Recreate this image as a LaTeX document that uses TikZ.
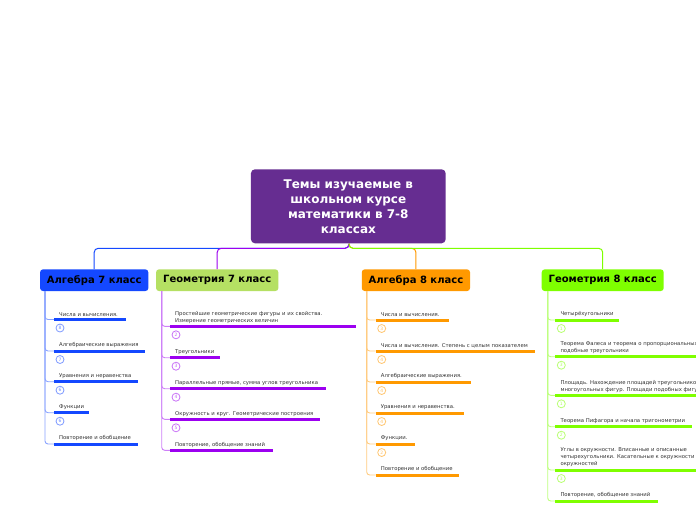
\documentclass[tikz,border=0pt]{standalone}
\usepackage{fontspec}
\setmainfont{DejaVu Sans}
\usetikzlibrary{calc}
\definecolor{rootc}{HTML}{662D91}
\definecolor{ablue}{HTML}{1448FF}
\definecolor{gpurp}{HTML}{9C00F0}
\definecolor{gbox}{HTML}{B5E063}
\definecolor{aor}{HTML}{FF9900}
\definecolor{ggr}{HTML}{7FFF00}
\definecolor{txt}{HTML}{333333}
\tikzset{
  rootbox/.style={draw=none, fill=rootc, rounded corners=4pt, minimum width=194.7pt, minimum height=74pt, text=white, font=\fontsize{12}{15}\selectfont\bfseries, align=center, inner sep=0pt},
  branchbox/.style={rounded corners=3pt, minimum height=21.7pt, inner sep=0pt, font=\fontsize{10}{11}\selectfont\bfseries, text=black},
  itemtext/.style={inner sep=0pt, align=left, text=txt, font=\fontsize{5.3}{7}\selectfont},
  numc/.style={circle, fill=white, line width=0.8pt, minimum size=8pt, inner sep=0pt, font=\fontsize{4.5}{4.5}\selectfont},
  sub/.style={line width=0.9pt, rounded corners=3pt},
  conn/.style={line width=1pt, rounded corners=4pt},
  uline/.style={line width=3pt}
}
% #1 name, #2 colour, #3 x of vertical line, #4 x start, #5 x end, #6 y, #7 text, #8 number
\newcommand\mmitem[8]{%
  \coordinate (#1s) at (#4,#6);
  \coordinate (#1e) at (#5,#6);
  \draw[sub, #2!50] (#3,291) |- (#1s);
  \node[itemtext, anchor=south west] (#1t) at ($(#1s)+(5,-3)$) {#7};
  \draw[uline, #2] (#1s) -- (#1e);
  \ifx&#8&\else\node[numc, draw=#2!55, text=#2!60] (#1n) at ($(#1s)+(6,8.5)$) {#8};\fi
}
\begin{document}
\begin{tikzpicture}[x=1pt,y=-1pt]
\useasboundingbox (0,0) rectangle (696,520);
\clip (0,0) rectangle (696,520);
\fill[white] (0,0) rectangle (696,520);
% root
\node[rootbox] (root) at (348.3,206.3) {\rule{0pt}{0pt}\raisebox{0pt}{}Темы изучаемые в\\школьном курсе\\математики в 7-8\\классах};
% branches
\node[branchbox, fill=ablue, minimum width=108.3pt] (a7) at (94.2,280.2) {Алгебра 7 класс};
\node[branchbox, fill=gbox, minimum width=122.3pt] (g7) at (217.2,280.2) {Геометрия 7 класс};
\node[branchbox, fill=aor, minimum width=108.3pt] (a8) at (415.9,280.2) {Алгебра 8 класс};
\node[branchbox, fill=ggr, minimum width=122pt] (g8) at (602.7,280.2) {Геометрия 8 класс};
% connectors
\coordinate (rs) at (349,248.3);
\draw[conn, ablue] (root.south -| rs) -- (rs) -| (a7.north);
\draw[conn, gpurp] (root.south -| rs) -- (rs) -| (g7.north);
\draw[conn, aor] (root.south -| rs) -- (rs) -| (a8.north);
\draw[conn, ggr] (root.south -| rs) -- (rs) -| (g8.north);
% Algebra 7
\mmitem{a71}{ablue}{45}{54}{126}{319.5}{Числа и вычисления.}{8}
\mmitem{a72}{ablue}{45}{54}{144.5}{351}{Алгебраические выражения}{7}
\mmitem{a73}{ablue}{45}{54}{137.5}{381.7}{Уравнения и неравенства}{6}
\mmitem{a74}{ablue}{45}{54}{89}{412.7}{Функции}{6}
\mmitem{a75}{ablue}{45}{54}{137.5}{444}{Повторение и обобщение}{}
% Geometry 7
\mmitem{g71}{gpurp}{161.7}{170}{355.7}{326.3}{Простейшие геометрические фигуры и их свойства.\\Измерение геометрических величин}{2}
\mmitem{g72}{gpurp}{161.7}{170}{220}{357.7}{Треугольники}{3}
\mmitem{g73}{gpurp}{161.7}{170}{325.7}{388.7}{Параллельные прямые, сумма углов треугольника}{4}
\mmitem{g74}{gpurp}{161.7}{170}{320}{419.3}{Окружность и круг. Геометрические построения}{5}
\mmitem{g75}{gpurp}{161.7}{170}{272.7}{450.3}{Повторение, обобщение знаний}{}
% Algebra 8
\mmitem{a81}{aor}{366.7}{375.7}{449}{320}{Числа и вычисления.}{3}
\mmitem{a82}{aor}{366.7}{375.7}{535.3}{351}{Числа и вычисления. Степень с целым показателем}{4}
\mmitem{a83}{aor}{366.7}{375.7}{470.7}{382}{Алгебраические выражения.}{4}
\mmitem{a84}{aor}{366.7}{375.7}{463.7}{413}{Уравнения и неравенства.}{4}
\mmitem{a85}{aor}{366.7}{375.7}{415}{444}{Функции.}{2}
\mmitem{a86}{aor}{366.7}{375.7}{459.3}{475}{Повторение и обобщение}{}
% Geometry 8
\mmitem{g81}{ggr}{547.7}{555.3}{619.3}{320}{Четырёхугольники}{1}
\mmitem{g82}{ggr}{547.7}{555.3}{720}{356.7}{Теорема Фалеса и теорема о пропорциональных\\подобные треугольники}{3}
\mmitem{g83}{ggr}{547.7}{555.3}{720}{395.3}{Площадь. Нахождение площадей треугольников и\\многоугольных фигур. Площади подобных фигур}{1}
\mmitem{g84}{ggr}{547.7}{555.3}{692.3}{426.7}{Теорема Пифагора и начала тригонометрии}{2}
\mmitem{g85}{ggr}{547.7}{555.3}{720}{470}{Углы в окружности. Вписанные и описанные\\четырехугольники. Касательные к окружности\\окружностей}{3}
\mmitem{g86}{ggr}{547.7}{555.3}{657.7}{501}{Повторение, обобщение знаний}{}
\end{tikzpicture}
\end{document}
